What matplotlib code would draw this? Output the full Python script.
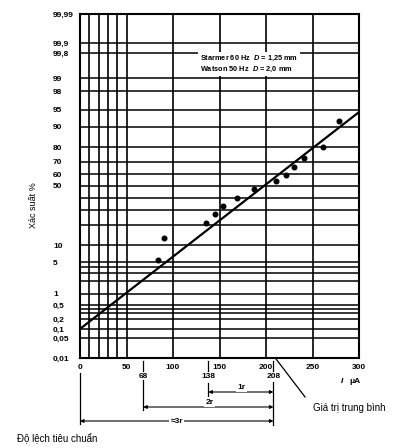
import numpy as np
import matplotlib
matplotlib.use('Agg')
import matplotlib.pyplot as plt
from matplotlib.ticker import FixedLocator, NullLocator
from matplotlib.transforms import blended_transform_factory
from statistics import NormalDist

# measured points (current in uA, cumulative probability in %)
current_ua = [84, 90, 135, 145, 154, 169, 187, 211, 221, 230, 241, 261, 279]
prob_pct = [5.6, 13, 21, 27, 33.5, 40, 47, 54, 59, 66, 73, 80, 92]

# fitted straight line on the probability paper
fit_x = [0, 300]
fit_p = [0.1, 94.5]

y_ticks = [0.01, 0.05, 0.1, 0.2, 0.5, 1, 5, 10, 50, 60, 70, 80, 90, 95, 98, 99, 99.8, 99.9, 99.99]
y_grid_extra = [0.3, 0.4, 2, 3, 4, 20, 30, 40]
x_ticks = [0, 50, 100, 150, 200, 250, 300]
x_grid_extra = [10, 20, 30, 40]
sigma_marks = [68, 138, 208]

plt.rcParams['font.family'] = ['Liberation Sans', 'DejaVu Sans']
plt.rcParams['mathtext.fontset'] = 'custom'
plt.rcParams['mathtext.it'] = 'Liberation Sans:italic:bold'
plt.rcParams['mathtext.rm'] = 'Liberation Sans:bold'

_nd = NormalDist()


def fwd(p):
    p = np.clip(np.asarray(p, float) / 100.0, 1e-9, 1 - 1e-9)
    return np.vectorize(_nd.inv_cdf, otypes=[float])(p)


def inv(z):
    return np.vectorize(_nd.cdf, otypes=[float])(np.asarray(z, float)) * 100.0


W, H = 398, 448
fig = plt.figure(figsize=(W / 100, H / 100), dpi=100)
ax = fig.add_axes([80 / W, 90 / H, 279 / W, 344 / H])
ax.set_yscale('function', functions=(fwd, inv))
ax.set_xlim(0, 300)
ax.set_ylim(0.01, 99.99)

# grid
for v in y_ticks + y_grid_extra:
    ax.axhline(v, color='black', lw=1.1, zorder=1)
for v in x_ticks + x_grid_extra:
    ax.axvline(v, color='black', lw=1.2, zorder=1)
for s in ax.spines.values():
    s.set_linewidth(1.5)

ax.yaxis.set_major_locator(FixedLocator(y_ticks))
ax.yaxis.set_minor_locator(NullLocator())
ax.set_yticklabels([f'{v:g}'.replace('.', ',') for v in y_ticks])
ax.tick_params(axis='y', length=0, pad=19.4, labelsize=6)
for lab in ax.get_yticklabels():
    lab.set_horizontalalignment('left')
    lab.set_fontweight('bold')

ax.set_xticks(x_ticks)
ax.xaxis.set_minor_locator(NullLocator())
ax.tick_params(axis='x', length=0, pad=4.5, labelsize=6)
for lab in ax.get_xticklabels():
    lab.set_fontweight('bold')

# data
ax.plot(fit_x, fit_p, color='black', lw=1.6, zorder=3)
ax.plot(current_ua, prob_pct, 'o', color='black', ms=3.3, zorder=4)

ax.text(0.43, 0.855, 'Starmer 60 Hz  $D$ = 1,25 mm\nWatson 50 Hz  $D$ = 2,0 mm',
        transform=ax.transAxes, fontsize=5.3, fontweight='bold', va='center', ha='left',
        linespacing=1.15, zorder=5,
        bbox=dict(facecolor='white', edgecolor='none', pad=1.5))

# annotations below the axis
trans = blended_transform_factory(ax.transData, fig.transFigure)


def fy(py):
    return 1 - py / H


kw = dict(color='black', lw=0.9, transform=trans, clip_on=False)
for m in sigma_marks:
    ax.plot([m, m], [fy(361), fy(371)], **kw)
    ax.text(m, fy(376), str(m), transform=trans, ha='center', va='center',
            fontsize=6, fontweight='bold')

ax.plot([0, 0], [fy(373), fy(424)], **kw)
ax.plot([68, 68], [fy(380), fy(410)], **kw)
ax.plot([138, 138], [fy(383), fy(396)], **kw)
ax.plot([208, 208], [fy(382), fy(425)], **kw)

arrow = dict(arrowstyle='<|-|>', mutation_scale=5, lw=0.8, color='black',
             shrinkA=0, shrinkB=0)
for x0, py, lbl, lx, ly in [(138, 392, '1r', 174, 387),
                            (68, 407, '2r', 139, 402),
                            (0, 421, '≈3r', 104, 421)]:
    ax.annotate('', xy=(208, fy(py)), xytext=(x0, fy(py)),
                xycoords=trans, textcoords=trans, arrowprops=arrow)
    ax.text(lx, fy(ly), lbl, transform=trans, ha='center', va='center',
            fontsize=6, fontweight='bold', zorder=5,
            bbox=dict(facecolor='white', edgecolor='none', pad=1.0))

# pointer to the mean value
ax.plot([210, 242], [fy(358), fy(397)], **kw)

fig.text(341 / W, fy(381), 'I', fontsize=6, fontstyle='italic', fontweight='bold',
         ha='left', va='center')
fig.text(349 / W, fy(381), 'μA', fontsize=6, fontweight='bold', ha='left', va='center')
fig.text(313 / W, fy(408), 'Giá trị trung bình', fontsize=7, ha='left', va='center')
fig.text(17 / W, fy(439), 'Độ lệch tiêu chuẩn', fontsize=7, ha='left', va='center')
fig.text(33 / W, fy(205), 'Xác suất %', fontsize=6.5, rotation=90, ha='center', va='center')

fig.savefig('out.png', dpi=100)
